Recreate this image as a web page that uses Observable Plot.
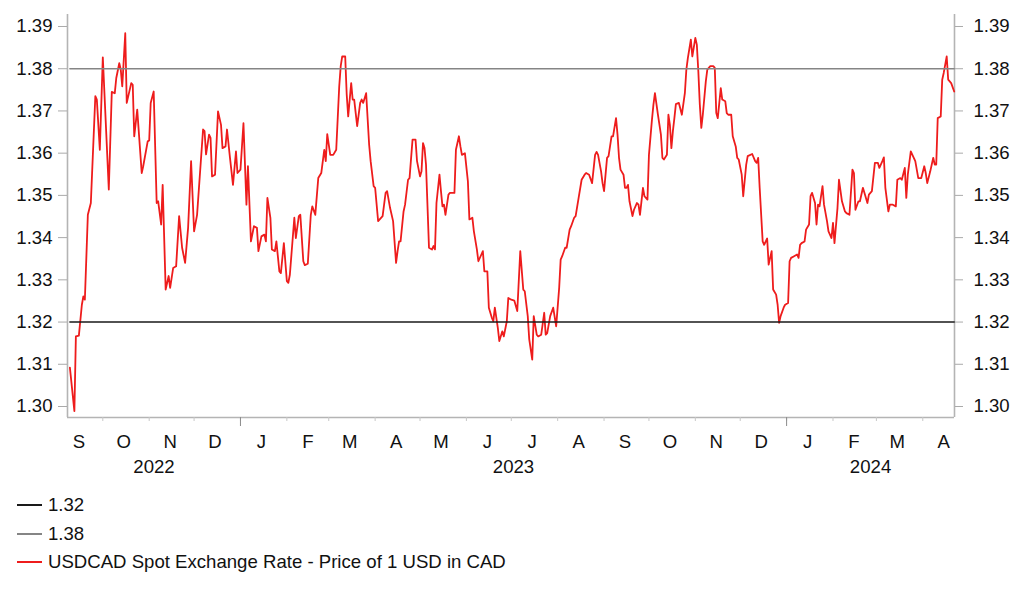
<!DOCTYPE html>
<html>
<head>
<meta charset="utf-8">
<script src="https://cdn.jsdelivr.net/npm/d3@7"></script>
<script src="https://cdn.jsdelivr.net/npm/@observablehq/plot@0.6"></script>
<style>
  html, body { margin: 0; padding: 0; background: #fff; }
  body { width: 1022px; height: 597px; overflow: hidden; font-family: "Liberation Sans", Arial, sans-serif; }
  #legend { padding: 11px 0 0 17px; font-size: 18.6px; color: #111; }
  .row { height: 28.5px; display: flex; align-items: center; }
  .sw { width: 25px; height: 0; border-top: 2px solid; margin-right: 6px; }
</style>
</head>
<body>
<div id="chart"></div>
<div id="legend"></div>
<script>
const dates = [
"2022-09-09","2022-09-12","2022-09-13","2022-09-15","2022-09-17","2022-09-18","2022-09-19","2022-09-21","2022-09-23","2022-09-26","2022-09-27","2022-09-29",
"2022-10-01","2022-10-05","2022-10-07","2022-10-09","2022-10-10","2022-10-12","2022-10-13","2022-10-14","2022-10-16","2022-10-17","2022-10-20","2022-10-21","2022-10-22","2022-10-24","2022-10-27","2022-10-28","2022-10-31",
"2022-11-01","2022-11-02","2022-11-04","2022-11-06","2022-11-07","2022-11-09","2022-11-10","2022-11-12","2022-11-14","2022-11-15","2022-11-17","2022-11-19","2022-11-21","2022-11-23","2022-11-25","2022-11-27","2022-11-29",
"2022-12-01","2022-12-03","2022-12-07","2022-12-08","2022-12-09","2022-12-11","2022-12-12","2022-12-13","2022-12-15","2022-12-17","2022-12-19","2022-12-20","2022-12-22","2022-12-23","2022-12-25","2022-12-27","2022-12-29","2022-12-30",
"2023-01-01","2023-01-03","2023-01-05","2023-01-06","2023-01-08","2023-01-10","2023-01-12","2023-01-13","2023-01-15","2023-01-17","2023-01-18","2023-01-19","2023-01-21","2023-01-22","2023-01-24","2023-01-25","2023-01-27","2023-01-28","2023-01-30",
"2023-02-01","2023-02-02","2023-02-03","2023-02-06","2023-02-07","2023-02-09","2023-02-10","2023-02-12","2023-02-13","2023-02-15","2023-02-17","2023-02-18","2023-02-20","2023-02-22","2023-02-24","2023-02-26","2023-02-27","2023-02-28",
"2023-03-02","2023-03-04","2023-03-06","2023-03-08","2023-03-09","2023-03-10","2023-03-12","2023-03-13","2023-03-14","2023-03-16","2023-03-17","2023-03-18","2023-03-20","2023-03-22","2023-03-23","2023-03-24","2023-03-26","2023-03-28","2023-03-29","2023-03-31",
"2023-04-01","2023-04-03","2023-04-06","2023-04-08","2023-04-09","2023-04-11","2023-04-13","2023-04-15","2023-04-16","2023-04-17","2023-04-18","2023-04-20","2023-04-21","2023-04-23","2023-04-24","2023-04-26","2023-04-28","2023-04-29",
"2023-05-01","2023-05-02","2023-05-03","2023-05-04","2023-05-05","2023-05-07","2023-05-09","2023-05-10","2023-05-11","2023-05-12","2023-05-14","2023-05-15","2023-05-16","2023-05-17","2023-05-18","2023-05-20","2023-05-21","2023-05-24","2023-05-25","2023-05-27","2023-05-28","2023-05-29","2023-05-31",
"2023-06-02","2023-06-03","2023-06-05","2023-06-06","2023-06-08","2023-06-09","2023-06-11","2023-06-12","2023-06-13","2023-06-15","2023-06-16","2023-06-18","2023-06-19","2023-06-20","2023-06-22","2023-06-23","2023-06-25","2023-06-26","2023-06-28","2023-06-29",
"2023-07-01","2023-07-03","2023-07-05","2023-07-07","2023-07-09","2023-07-10","2023-07-12","2023-07-13","2023-07-15","2023-07-16","2023-07-18","2023-07-19","2023-07-21","2023-07-23","2023-07-24","2023-07-25","2023-07-27","2023-07-29","2023-07-31",
"2023-08-02","2023-08-03","2023-08-04","2023-08-06","2023-08-07","2023-08-09","2023-08-10","2023-08-12","2023-08-13","2023-08-15","2023-08-17","2023-08-19","2023-08-20","2023-08-22","2023-08-24","2023-08-26","2023-08-27","2023-08-28","2023-08-30","2023-08-31",
"2023-09-01","2023-09-03","2023-09-04","2023-09-06","2023-09-07","2023-09-09","2023-09-10","2023-09-11","2023-09-12","2023-09-14","2023-09-15","2023-09-16","2023-09-17","2023-09-18","2023-09-20","2023-09-21","2023-09-23","2023-09-24","2023-09-25","2023-09-27","2023-09-28","2023-09-30",
"2023-10-01","2023-10-03","2023-10-04","2023-10-05","2023-10-07","2023-10-09","2023-10-10","2023-10-11","2023-10-13","2023-10-14","2023-10-15","2023-10-16","2023-10-17","2023-10-18","2023-10-19","2023-10-21","2023-10-23","2023-10-25","2023-10-26","2023-10-27","2023-10-29","2023-10-30",
"2023-11-01","2023-11-02","2023-11-03","2023-11-04","2023-11-05","2023-11-06","2023-11-08","2023-11-09","2023-11-11","2023-11-13","2023-11-14","2023-11-15","2023-11-16","2023-11-18","2023-11-19","2023-11-21","2023-11-22","2023-11-23","2023-11-25","2023-11-26","2023-11-28","2023-11-29","2023-11-30",
"2023-12-02","2023-12-03","2023-12-05","2023-12-06","2023-12-09","2023-12-11","2023-12-12","2023-12-13","2023-12-14","2023-12-16","2023-12-17","2023-12-19","2023-12-20","2023-12-22","2023-12-23","2023-12-25","2023-12-26","2023-12-27","2023-12-28","2023-12-30","2023-12-31",
"2024-01-02","2024-01-03","2024-01-04","2024-01-06","2024-01-08","2024-01-09","2024-01-10","2024-01-11","2024-01-13","2024-01-14","2024-01-16","2024-01-17","2024-01-18","2024-01-20","2024-01-21","2024-01-22","2024-01-23","2024-01-25","2024-01-26","2024-01-28","2024-01-29","2024-01-31",
"2024-02-01","2024-02-02","2024-02-04","2024-02-05","2024-02-07","2024-02-09","2024-02-10","2024-02-12","2024-02-14","2024-02-15","2024-02-16","2024-02-18","2024-02-19","2024-02-21","2024-02-22","2024-02-24","2024-02-25","2024-02-27","2024-02-29",
"2024-03-02","2024-03-03","2024-03-05","2024-03-06","2024-03-07","2024-03-09","2024-03-10","2024-03-12","2024-03-14","2024-03-15","2024-03-17","2024-03-18","2024-03-20","2024-03-21","2024-03-22","2024-03-24","2024-03-26","2024-03-27","2024-03-29","2024-03-31",
"2024-04-02","2024-04-03","2024-04-04","2024-04-06","2024-04-08","2024-04-09","2024-04-10","2024-04-11","2024-04-13","2024-04-14","2024-04-15","2024-04-17","2024-04-18","2024-04-20","2024-04-22"
];
const values = [
1.3092,1.2989,1.3166,1.3168,1.3241,1.3261,1.3253,1.3454,1.3482,1.3735,1.3727,1.3608,
1.3827,1.3514,1.3745,1.3742,1.3778,1.3813,1.3798,1.3758,1.3884,1.3719,1.3766,1.3762,1.3640,1.3703,1.3553,1.3569,1.3628,
1.3630,1.3719,1.3746,1.3482,1.3486,1.3431,1.3525,1.3277,1.3309,1.3281,1.3328,1.3332,1.3451,1.3376,1.3340,1.3423,1.3581,
1.3415,1.3454,1.3656,1.3652,1.3597,1.3644,1.3636,1.3545,1.3549,1.3699,1.3667,1.3612,1.3616,1.3656,1.3589,1.3525,1.3604,1.3553,
1.3561,1.3671,1.3478,1.3569,1.3391,1.3427,1.3423,1.3368,1.3403,1.3407,1.3391,1.3494,1.3447,1.3372,1.3368,1.3391,1.3320,1.3316,1.3387,
1.3297,1.3293,1.3312,1.3447,1.3399,1.3451,1.3454,1.3344,1.3335,1.3338,1.3454,1.3474,1.3454,1.3541,1.3553,1.3608,1.3581,1.3645,
1.3596,1.3596,1.3608,1.3758,1.3806,1.3829,1.3829,1.3739,1.3687,1.3766,1.3727,1.3727,1.3664,1.3719,1.3727,1.3719,1.3742,1.3620,1.3581,1.3522,
1.3518,1.3439,1.3451,1.3506,1.3510,1.3470,1.3439,1.3340,1.3368,1.3391,1.3391,1.3462,1.3478,1.3537,1.3541,1.3632,1.3632,1.3581,
1.3545,1.3557,1.3624,1.3612,1.3573,1.3376,1.3372,1.3380,1.3372,1.3482,1.3549,1.3510,1.3474,1.3478,1.3454,1.3502,1.3506,1.3506,1.3608,1.3640,1.3616,1.3596,1.3600,
1.3533,1.3443,1.3447,1.3415,1.3372,1.3344,1.3360,1.3368,1.3320,1.3320,1.3234,1.3210,1.3202,1.3234,1.3186,1.3155,1.3178,1.3166,1.3202,1.3257,
1.3253,1.3251,1.3226,1.3368,1.3277,1.3273,1.3214,1.3159,1.3111,1.3214,1.3170,1.3166,1.3170,1.3222,1.3170,1.3174,1.3214,1.3234,1.3190,
1.3281,1.3348,1.3356,1.3376,1.3376,1.3419,1.3427,1.3447,1.3451,1.3494,1.3537,1.3549,1.3553,1.3549,1.3529,1.3596,1.3603,1.3596,1.3557,1.3529,
1.3510,1.3589,1.3593,1.3640,1.3640,1.3683,1.3644,1.3589,1.3561,1.3549,1.3518,1.3518,1.3525,1.3486,1.3451,1.3466,1.3482,1.3478,1.3454,1.3518,1.3498,1.3490,
1.3596,1.3679,1.3715,1.3742,1.3691,1.3644,1.3589,1.3585,1.3596,1.3691,1.3667,1.3612,1.3652,1.3683,1.3716,1.3719,1.3691,1.3742,1.3798,1.3825,1.3869,1.3829,
1.3873,1.3857,1.3794,1.3715,1.3660,1.3691,1.3770,1.3798,1.3806,1.3806,1.3802,1.3695,1.3683,1.3754,1.3727,1.3723,1.3695,1.3691,1.3691,1.3640,1.3616,1.3589,1.3585,
1.3549,1.3498,1.3573,1.3593,1.3598,1.3581,1.3577,1.3589,1.3518,1.3391,1.3383,1.3398,1.3336,1.3368,1.3277,1.3265,1.3241,1.3198,1.3214,1.3234,1.3241,
1.3245,1.3344,1.3352,1.3356,1.3360,1.3352,1.3383,1.3387,1.3391,1.3419,1.3431,1.3498,1.3506,1.3482,1.3431,1.3478,1.3474,1.3522,1.3478,1.3439,1.3415,1.3399,
1.3435,1.3387,1.3470,1.3537,1.3486,1.3462,1.3458,1.3454,1.3561,1.3553,1.3466,1.3486,1.3486,1.3518,1.3506,1.3482,1.3502,1.3510,1.3577,
1.3577,1.3565,1.3581,1.3590,1.3518,1.3462,1.3478,1.3478,1.3474,1.3537,1.3541,1.3537,1.3565,1.3494,1.3549,1.3604,1.3589,1.3581,1.3541,1.3541,
1.3569,1.3553,1.3529,1.3557,1.3589,1.3573,1.3573,1.3683,1.3687,1.3774,1.3790,1.3829,1.3774,1.3766,1.3746
];

const levels = [1.32, 1.38];
const levelColors = ["#1a1a1a", "#858585"];
const seriesName = "USDCAD Spot Exchange Rate - Price of 1 USD in CAD";
const seriesColor = "#ee1c1c";

const yTicks = [1.30, 1.31, 1.32, 1.33, 1.34, 1.35, 1.36, 1.37, 1.38, 1.39];
const monthLabels = ["S","O","N","D","J","F","M","A","M","J","J","A","S","O","N","D","J","F","M","A"];
const yearLabels = ["2022", "2023", "2024"];

const xDomain = [new Date("2022-09-07T09:36:00Z"), new Date("2024-04-22T05:00:00Z")];
const yDomain = [1.297395, 1.392842];

const data = dates.map((d, i) => ({date: new Date(d), value: values[i]}));

const monthMids = monthLabels.map((label, i) => ({date: d3.utcDay.offset(d3.utcMonth.offset(new Date(Date.UTC(2022, 8, 1)), i), 14), label}));
const monthStarts = d3.utcMonth.range(d3.utcMonth.ceil(xDomain[0]), xDomain[1]);
const yearStarts = d3.utcYear.range(d3.utcYear.ceil(xDomain[0]), xDomain[1]);
const yearData = yearLabels.map(label => {
  const y = +label;
  const a = Math.max(+xDomain[0], Date.UTC(y, 0, 1));
  const b = Math.min(+xDomain[1], Date.UTC(y + 1, 0, 1));
  return {date: new Date((a + b) / 2), label};
});

const font = '"Liberation Sans", Arial, sans-serif';
const fs = 18.6;

const chart = Plot.plot({
  width: 1022,
  height: 480,
  marginLeft: 67,
  marginRight: 68,
  marginTop: 14,
  marginBottom: 63,
  style: {fontFamily: font, fontSize: fs + "px", color: "#111", background: "#fff"},
  x: {type: "utc", domain: xDomain},
  y: {domain: yDomain},
  marks: [
    Plot.ruleX(xDomain, {stroke: "#b4b4b4", strokeWidth: 1.6}),
    Plot.ruleY([yDomain[0]], {stroke: "#b4b4b4", strokeWidth: 1.6}),
    Plot.axisY({anchor: "left", ticks: yTicks, tickFormat: d3.format(".2f"), tickSize: 9, tickPadding: 6, stroke: "#aaaaaa", fill: "#111", fontSize: fs, label: null}),
    Plot.axisY({anchor: "right", ticks: yTicks, tickFormat: d3.format(".2f"), tickSize: 8, tickPadding: 11, stroke: "#aaaaaa", fill: "#111", fontSize: fs, label: null}),
    Plot.axisX({ticks: monthStarts, tickSize: 4, tickFormat: () => "", stroke: "#c8c8c8", label: null}),
    Plot.axisX({ticks: yearStarts, tickSize: 9, tickFormat: () => "", stroke: "#8c8c8c", label: null}),
    Plot.text(monthMids, {x: "date", text: "label", frameAnchor: "bottom", dy: 24.5, lineAnchor: "middle", fill: "#111", fontSize: fs}),
    Plot.text(yearData, {x: "date", text: "label", frameAnchor: "bottom", dy: 49.5, lineAnchor: "middle", fill: "#111", fontSize: fs}),
    Plot.line(data, {x: "date", y: "value", stroke: seriesColor, strokeWidth: 1.8}),
    Plot.lineY(data, {x: "date", y: () => levels[1], stroke: levelColors[1], strokeWidth: 1.5}),
    Plot.lineY(data, {x: "date", y: () => levels[0], stroke: levelColors[0], strokeWidth: 1.5})
  ]
});
document.getElementById("chart").appendChild(chart);

const legendItems = [
  {label: String(levels[0]), color: levelColors[0]},
  {label: String(levels[1]), color: levelColors[1]},
  {label: seriesName, color: seriesColor}
];
const legend = document.getElementById("legend");
legendItems.forEach(it => {
  const row = document.createElement("div");
  row.className = "row";
  const sw = document.createElement("span");
  sw.className = "sw";
  sw.style.borderTopColor = it.color;
  const tx = document.createElement("span");
  tx.textContent = it.label;
  row.appendChild(sw);
  row.appendChild(tx);
  legend.appendChild(row);
});
</script>
</body>
</html>
